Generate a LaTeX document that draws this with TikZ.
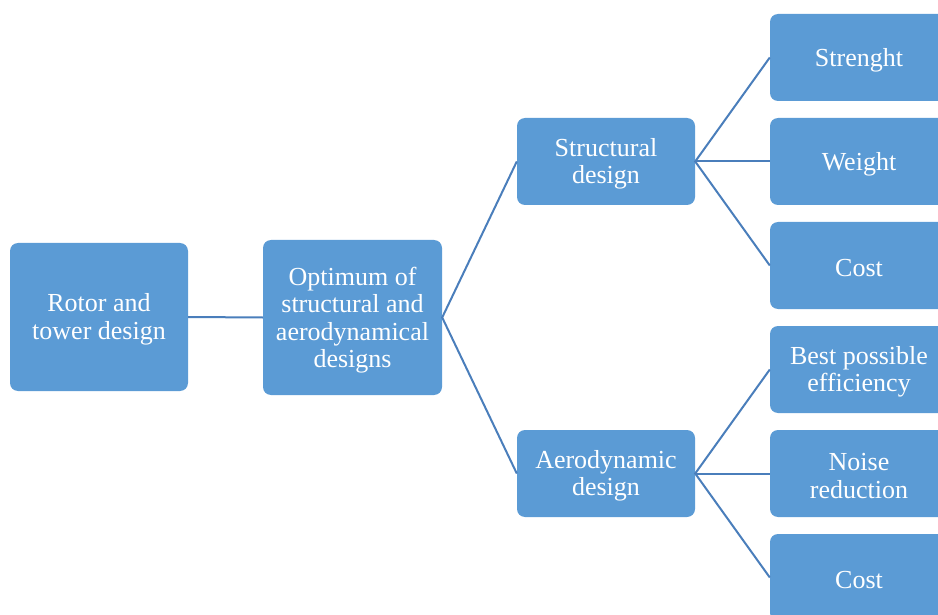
\documentclass[tikz,border=0pt]{standalone}
\usepackage{fontspec}
\setmainfont{Liberation Serif}
\definecolor{boxfill}{HTML}{5B9BD5}
\definecolor{linecol}{HTML}{4A7EBB}
\begin{document}
\begin{tikzpicture}[x=1pt,y=-1pt,
  box/.style={fill=boxfill, draw=none, rounded corners=8pt, inner sep=0pt},
  txtlab/.style={text=white, align=center, inner sep=0pt, yshift=-2.5pt,
    font=\fontsize{26}{27.5}\selectfont},
  txt/.style={label={[txtlab]center:{#1}}},
  big/.style={box, minimum width=178pt, minimum height=148pt},
  mid/.style={box, minimum width=178pt, minimum height=87pt},
  conn/.style={draw=linecol, line width=2pt}]
\useasboundingbox (0,0) rectangle (938,615);
\clip (0,0) rectangle (938,615);
\node[big, txt={Rotor and\\tower design}] (rotor) at (99,317) {};
\node[big, minimum width=179pt, minimum height=155pt, txt={Optimum of\\structural and\\aerodynamical\\designs}] (opt) at (352.5,317.5) {};
\node[mid, txt={Structural\\design}] (struct) at (606,161.5) {};
\node[mid, txt={Aerodynamic\\design}] (aero) at (606,473.5) {};
\node[mid, txt={Strenght}] (s1) at (859,57.5) {};
\node[mid, txt={Weight}] (s2) at (859,161.5) {};
\node[mid, txt={Cost}] (s3) at (859,265.5) {};
\node[mid, txt={Best possible\\efficiency}] (a1) at (859,369.5) {};
\node[mid, txt={Noise\\reduction}] (a2) at (859,473.5) {};
\node[mid, txt={Cost}] (a3) at (859,577.5) {};
\draw[conn] (rotor.east) -- (opt.west);
\draw[conn] (struct.west) -- (opt.east) -- (aero.west);
\draw[conn] (s1.west) -- (struct.east) -- (s3.west);
\draw[conn] (struct.east) -- (s2.west);
\draw[conn] (a1.west) -- (aero.east) -- (a3.west);
\draw[conn] (aero.east) -- (a2.west);
\end{tikzpicture}
\end{document}
